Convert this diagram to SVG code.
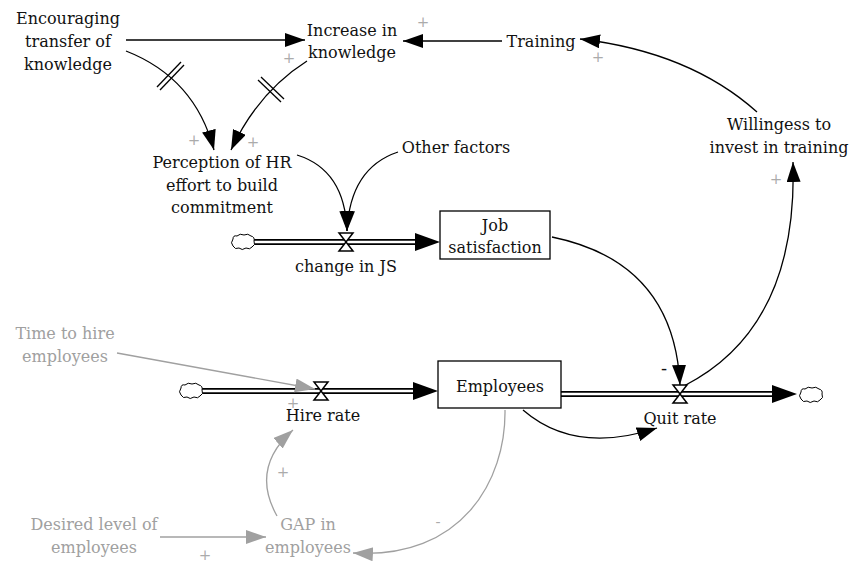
<svg xmlns="http://www.w3.org/2000/svg" width="852" height="563" viewBox="0 0 852 563">
<style>
text{font-family:'DejaVu Serif','Liberation Serif',serif;font-size:16px;fill:#111;text-anchor:middle}
.g{fill:#a0a0a0}
.pl{fill:#ababab;font-size:15px}
.mn{font-size:18px}
.lk{fill:none;stroke:#000;stroke-width:1.3}
.lg{fill:none;stroke:#a0a0a0;stroke-width:1.3}
.box{fill:#fff;stroke:#000;stroke-width:1.3}
.po{fill:none;stroke:#000;stroke-width:6}
.pi{fill:none;stroke:#fff;stroke-width:2.5}
.valve{fill:#fff;stroke:#000;stroke-width:1.5}
.cloud{fill:#fff;stroke:#000;stroke-width:1}
.hash{stroke:#000;stroke-width:1.3}
</style>
<defs>
<marker id="ak" markerUnits="userSpaceOnUse" markerWidth="22" markerHeight="16" refX="20" refY="7" orient="auto"><path d="M0,0 L20,7 L0,14 z" fill="#000"/></marker>
<marker id="ag" markerUnits="userSpaceOnUse" markerWidth="22" markerHeight="16" refX="20" refY="7" orient="auto"><path d="M0,0 L20,7 L0,14 z" fill="#a0a0a0"/></marker>
<path id="cl" class="cloud" d="M-10,-3 Q-10,-7 -6,-6 Q-3,-9 1,-7 Q5,-9 8,-6 Q12,-5 11,-1 Q13,3 9,5 Q7,8 3,6 Q-1,9 -4,6 Q-8,8 -10,4 Q-13,1 -10,-3 z"/>
</defs>

<g id="connectors">
  <path class="po" d="M254,242 H420"/><path class="pi" d="M254,242 H420"/>
  <path d="M415,233 L440,242 L415,251 z" fill="#000"/>
  <path class="po" d="M202,391 H418"/><path class="pi" d="M202,391 H418"/>
  <path d="M413,382 L438,391 L413,400 z" fill="#000"/>
  <path class="po" d="M561,394 H778"/><path class="pi" d="M561,394 H778"/>
  <path d="M772,385 L797,394 L772,403 z" fill="#000"/>

  <path class="lk" d="M126,40 H305" marker-end="url(#ak)"/>
  <path class="lk" d="M502,41 H403" marker-end="url(#ak)"/>
  <path class="lk" d="M126,51 Q195,78 214,150" marker-end="url(#ak)"/>
  <line class="hash" x1="157" y1="87" x2="181" y2="62"/><line class="hash" x1="160" y1="90" x2="184" y2="65"/>
  <path class="lk" d="M307,61 Q258,92 231,150" marker-end="url(#ak)"/>
  <line class="hash" x1="258" y1="80" x2="281" y2="102"/><line class="hash" x1="261" y1="77" x2="284" y2="99"/>
  <path class="lk" d="M297,155 Q345,170 347,231" marker-end="url(#ak)"/>
  <path class="lk" d="M398,152 Q350,168 347,231" marker-end="url(#ak)"/>
  <path class="lk" d="M552,237 Q674,262 680,385" marker-end="url(#ak)"/>
  <path class="lk" d="M684,386 Q798,328 793,162" marker-end="url(#ak)"/>
  <path class="lk" d="M757,112 Q690,52 580,39" marker-end="url(#ak)"/>
  <path class="lk" d="M523,410 Q575,455 657,428" marker-end="url(#ak)"/>

  <path class="lg" d="M117,353 L315,389" marker-end="url(#ag)"/>
  <path class="lg" d="M160,537 H266" marker-end="url(#ag)"/>
  <path class="lg" d="M277,516 Q250,468 293,430" marker-end="url(#ag)"/>
  <path class="lg" d="M505,410 C506,480 462,560 353,553" marker-end="url(#ag)"/>

  <text class="pl" x="423" y="27">+</text>
  <text class="pl" x="289" y="63">+</text>
  <text class="pl" x="598" y="62">+</text>
  <text class="pl" x="194" y="145">+</text>
  <text class="pl" x="253" y="147">+</text>
  <text class="pl" x="776" y="184">+</text>
  <text class="mn" x="664" y="375">-</text>
  <text class="pl" x="293" y="408">+</text>
  <text class="pl" x="283" y="477">+</text>
  <text class="pl" x="205" y="560">+</text>
  <text class="pl g" x="438" y="527">-</text>
</g>

<g id="cloud-js"><use href="#cl" x="243" y="242"/></g>
<g id="cloud-hire"><use href="#cl" x="191" y="391"/></g>
<g id="cloud-quit"><use href="#cl" x="811" y="395"/></g>

<g id="encouraging"><text x="68" y="24">Encouraging</text><text x="68" y="47">transfer of</text><text x="68" y="70">knowledge</text></g>
<g id="increase"><text x="352" y="36">Increase in</text><text x="352" y="58">knowledge</text></g>
<g id="training"><text x="541" y="47">Training</text></g>
<g id="willingness"><text x="779" y="130">Willingess to</text><text x="779" y="153">invest in training</text></g>
<g id="perception"><text x="222" y="168">Perception of HR</text><text x="222" y="191">effort to build</text><text x="222" y="213">commitment</text></g>
<g id="other"><text x="456" y="153">Other factors</text></g>

<g id="job-satisfaction"><rect class="box" x="440" y="211" width="110" height="48"/><text x="495" y="231">Job</text><text x="495" y="253">satisfaction</text></g>
<g id="change-js"><path class="valve" d="M339,233 H353 L339,251 H353 z"/><text x="346" y="272">change in JS</text></g>

<g id="employees"><rect class="box" x="438" y="361" width="123" height="47"/><text x="500" y="392">Employees</text></g>
<g id="hire-rate"><path class="valve" d="M314,382 H328 L314,400 H328 z"/><text x="323" y="421">Hire rate</text></g>
<g id="quit-rate"><path class="valve" d="M673,385 H687 L673,403 H687 z"/><text x="680" y="424">Quit rate</text></g>

<g id="time-to-hire"><text class="g" x="65" y="339">Time to hire</text><text class="g" x="65" y="362">employees</text></g>
<g id="desired"><text class="g" x="94" y="530">Desired level of</text><text class="g" x="94" y="553">employees</text></g>
<g id="gap"><text class="g" x="308" y="530">GAP in</text><text class="g" x="308" y="553">employees</text></g>
</svg>
